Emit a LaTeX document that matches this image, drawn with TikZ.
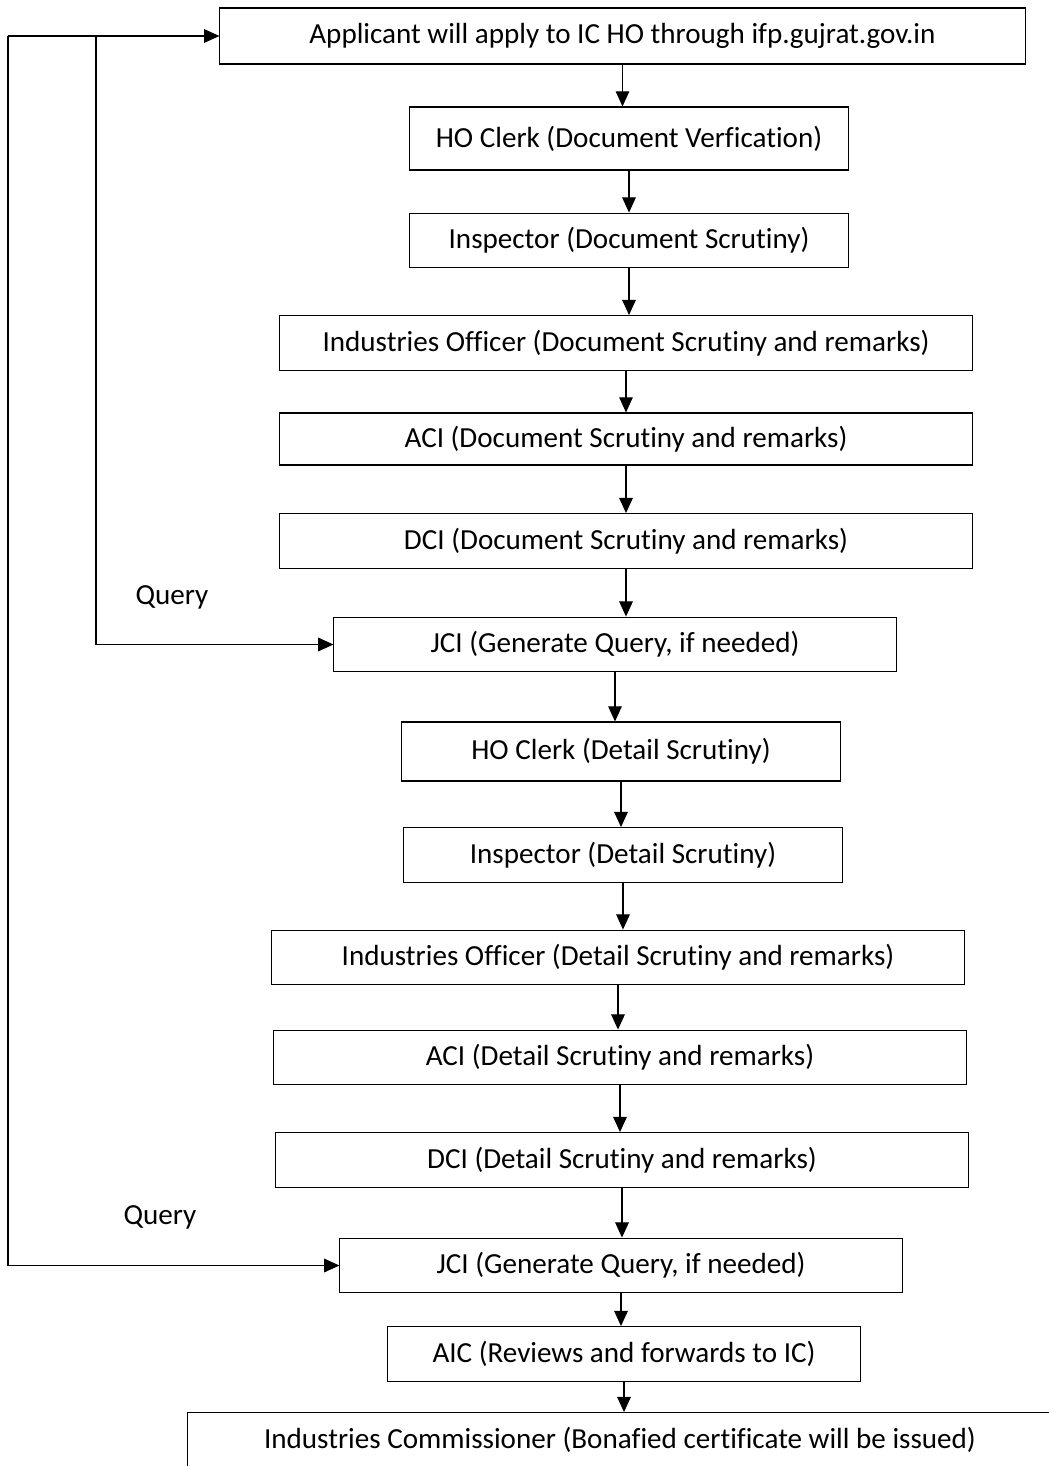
\documentclass[tikz,border=0pt]{standalone}
\usepackage{fontspec}
\setmainfont[RawFeature={-liga;-clig;-calt;-dlig}]{Carlito}
\usetikzlibrary{arrows.meta}
\tikzset{
  stagebox/.style={draw,line width=0.75pt,inner sep=0pt,minimum height=1.37cm},
  arr/.style={line width=0.8pt,-{Triangle[length=0.38cm,width=0.34cm]}},
}
\begin{document}
\begin{tikzpicture}[x=0.025cm,y=-0.025cm]
  \fontsize{20.7pt}{24pt}\selectfont
  \useasboundingbox[fill=white] (0,0) rectangle (1049,1466);
  % first round: document scrutiny
  \node[stagebox,minimum width=20.125cm,minimum height=1.4cm] (app) at (622.5,36) {Applicant will apply to IC HO through ifp.gujrat.gov.in};
  \node[stagebox,minimum width=10.95cm,minimum height=1.575cm] (hoA) at (629,138.5) {HO Clerk (Document Verfication)};
  \node[stagebox,minimum width=10.95cm] (insA) at (629,240.5) {Inspector (Document Scrutiny)};
  \node[stagebox,minimum width=17.3cm] (ioA) at (626,343) {Industries Officer (Document Scrutiny and remarks)};
  \node[stagebox,minimum width=17.3cm,minimum height=1.3cm] (aciA) at (626,439) {ACI (Document Scrutiny and remarks)};
  \node[stagebox,minimum width=17.3cm] (dciA) at (626,541) {DCI (Document Scrutiny and remarks)};
  \node[stagebox,minimum width=14.05cm] (jciA) at (615,644.5) {JCI (Generate Query, if needed)};
  % second round: detail scrutiny
  \node[stagebox,minimum width=10.95cm,minimum height=1.475cm] (hoB) at (621,751.5) {HO Clerk (Detail Scrutiny)};
  \node[stagebox,minimum width=10.95cm] (insB) at (623,855) {Inspector (Detail Scrutiny)};
  \node[stagebox,minimum width=17.3cm] (ioB) at (618,957.5) {Industries Officer (Detail Scrutiny and remarks)};
  \node[stagebox,minimum width=17.3cm] (aciB) at (620,1057.5) {ACI (Detail Scrutiny and remarks)};
  \node[stagebox,minimum width=17.3cm] (dciB) at (622,1160) {DCI (Detail Scrutiny and remarks)};
  \node[stagebox,minimum width=14.05cm] (jciB) at (621,1265.5) {JCI (Generate Query, if needed)};
  \node[stagebox,minimum width=11.8cm] (aic) at (624,1354) {AIC (Reviews and forwards to IC)};
  \node[stagebox,minimum width=21.6cm] (ic) at (620,1440) {Industries Commissioner (Bonafied certificate will be issued)};
  % main flow
  \foreach \a/\b in {app/hoA,hoA/insA,insA/ioA,ioA/aciA,aciA/dciA,dciA/jciA,jciA/hoB,hoB/insB,insB/ioB,ioB/aciB,aciB/dciB,dciB/jciB,jciB/aic,aic/ic}
    {\draw[arr] (\a.south) -- (\a.south |- \b.north);}
  % query loops
  \coordinate (outer) at (8,36);
  \coordinate (inner) at (96,36);
  \draw[arr] (outer) -- (app.west);
  \draw[arr] (inner) |- (jciA.west);
  \draw[arr] (outer) |- (jciB.west);
  \node (qA) at (172,597) {Query};
  \node (qB) at (160,1217) {Query};
\end{tikzpicture}
\end{document}
